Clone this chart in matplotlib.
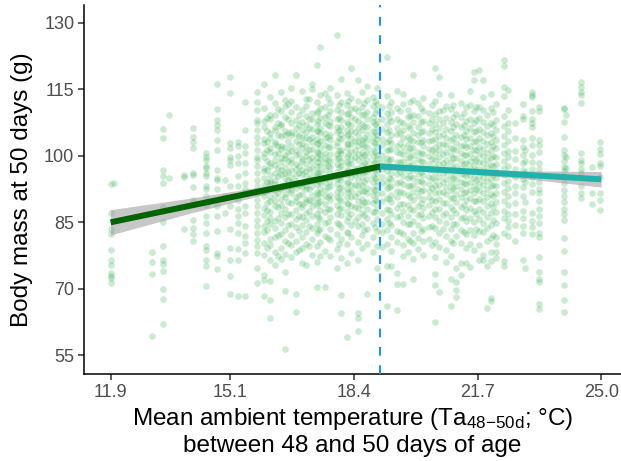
import numpy as np
import matplotlib
matplotlib.use("Agg")
import matplotlib.pyplot as plt

plt.rcParams['font.family'] = ['Liberation Sans', 'DejaVu Sans']
plt.rcParams['mathtext.fontset'] = 'custom'
plt.rcParams['mathtext.rm'] = 'Liberation Sans'
plt.rcParams['mathtext.it'] = 'Liberation Sans:italic'

# ---- data: temperature columns and body masses ----
temp_cols = [11.9, 12.0, 13.0, 13.3, 13.45, 13.85, 14.1, 14.45, 14.75, 14.95,
             15.1, 15.3, 15.5, 15.8,
             16.0, 16.15, 16.3, 16.45, 16.57, 16.72, 16.84, 17.0, 17.13, 17.27,
             17.4, 17.5, 17.62, 17.77, 17.94, 18.06, 18.2, 18.31, 18.5, 18.62,
             18.75, 18.9, 19.02,
             19.15, 19.27, 19.4, 19.55, 19.7, 19.85, 19.97, 20.1, 20.25, 20.4,
             20.56, 20.68, 20.85, 21.0, 21.12, 21.25, 21.4, 21.5, 21.6, 21.75,
             21.85, 21.95, 22.05, 22.2, 22.4, 22.5, 22.7, 22.9, 22.97, 23.15,
             23.33, 24.0, 24.05, 24.46, 24.75, 24.97]

mass_by_col = [
    [93.7, 87.2, 83.4, 82.3, 78.7, 76.4, 75.4, 73.5, 73.0, 72.4, 71.3],
    [93.9],
    [78.2, 76.0, 73.3, 59.4],
    [106.0, 104.0, 96.9, 95.4, 93.9, 88.5, 85.0, 79.6, 76.6, 75.5, 74.0, 70.0, 67.7, 62.0],
    [109.2, 95.1],
    [95.6, 95.3, 83.6],
    [106.3, 104.3, 103.0, 101.8, 96.2, 95.6, 93.0, 90.1, 85.6, 83.8, 82.3, 80.7],
    [100.6, 99.8, 99.1, 97.6, 97.2, 96.2, 95.4, 93.1, 92.4, 90.9, 89.0, 86.4, 84.9, 82.6, 79.6, 78.8, 76.6, 75.1, 70.6],
    [116.2, 110.5, 108.1, 107.0, 105.8, 103.6, 101.3, 96.9, 95.0, 94.6, 92.4, 88.6, 86.4, 83.0, 78.1, 77.4, 74.4],
    [94.5, 91.0, 87.0],
    [117.8, 114.1, 102.8, 101.7, 99.8, 99.1, 98.0, 93.1, 88.6, 83.4, 79.3, 76.6, 72.9, 68.8],
    [103.2, 102.1, 99.9, 98.4, 95.4, 93.1, 90.1, 87.9, 86.4, 84.9, 82.6, 78.9, 76.6, 68.4],
    [112.2, 105.8, 102.1, 100.6, 98.4, 96.1, 93.9, 92.4, 88.6, 87.1, 84.1, 81.9, 80.4, 78.1, 68.4],
    [114.4, 112.2, 110.3, 108.1, 107.3, 105.8, 104.3, 102.8, 101.3, 99.8, 99.1, 97.6, 96.1, 94.6, 93.1, 91.6, 90.1, 88.6, 87.1, 85.6, 84.1, 82.6, 81.1, 79.6, 78.1, 74.8, 71.4],
    [116.1, 110.7, 107.9, 106.4, 103.8, 102.9, 100.6, 99.8, 97.2, 96.5, 95.1, 93.4, 91.8, 90.9, 88.2, 86.7, 84.1, 82.8, 80.3, 77.6, 73.1, 72.0, 68.3],
    [113.3, 109.1, 108.4, 105.2, 104.1, 101.7, 100.9, 98.3, 97.6, 95.7, 94.3, 93.8, 90.6, 89.7, 87.4, 85.9, 84.6, 81.2, 79.9, 76.4, 71.8, 67.4, 63.4],
    [118.2, 111.8, 109.3, 106.6, 105.9, 103.2, 102.6, 100.3, 99.1, 97.9, 96.2, 94.6, 93.7, 91.1, 89.8, 88.6, 85.3, 83.7, 81.6, 78.2, 75.4],
    [114.3, 110.1, 107.2, 106.8, 104.4, 102.3, 101.5, 99.4, 98.7, 96.8, 95.9, 93.2, 92.5, 90.2, 88.9, 87.1, 84.8, 82.4, 79.3, 76.8],
    [112.6, 111.2, 108.7, 105.6, 104.7, 101.9, 100.2, 99.6, 97.4, 96.1, 94.9, 93.6, 91.4, 90.7, 88.1, 86.3, 83.2, 80.9, 77.9, 73.8, 69.6, 56.4],
    [115.2, 112.4, 109.8, 107.4, 105.3, 104.6, 102.2, 101.1, 99.2, 98.4, 96.7, 95.3, 94.1, 92.2, 91.6, 89.3, 86.8, 84.7, 82.1, 79.8, 77.2],
    [118.2, 110.9, 108.1, 106.2, 104.9, 103.4, 101.3, 100.1, 98.2, 97.1, 95.6, 94.4, 92.7, 90.8, 89.9, 87.7, 85.8, 83.9, 80.7, 78.3, 68.8, 64.8],
    [114.7, 110.3, 107.6, 105.8, 104.2, 102.8, 101.7, 99.3, 98.9, 96.9, 95.8, 93.9, 92.9, 91.3, 89.1, 88.4, 86.2, 84.3, 81.7, 79.1, 75.8],
    [112.8, 111.3, 108.9, 106.9, 105.4, 103.9, 102.1, 100.8, 99.9, 98.1, 96.6, 95.4, 93.3, 92.4, 90.3, 89.6, 87.2, 85.6, 82.9, 80.2, 75.3],
    [116.2, 115.0, 109.7, 108.3, 106.1, 104.3, 103.1, 101.6, 99.7, 98.6, 97.3, 95.7, 94.6, 93.1, 91.2, 89.8, 88.7, 86.4, 83.8, 81.3, 77.7],
    [120.4, 112.2, 109.6, 107.1, 105.7, 103.7, 102.7, 100.9, 99.6, 97.8, 96.4, 95.2, 93.6, 91.9, 90.4, 88.8, 86.9, 84.6, 82.7, 79.6, 76.1, 70.5],
    [124.5, 113.6, 110.8, 108.6, 106.3, 105.1, 103.3, 101.8, 100.4, 99.2, 97.6, 96.3, 94.2, 92.8, 91.7, 89.7, 87.8, 85.7, 83.4, 80.6, 77.3],
    [114.1, 111.1, 108.8, 107.3, 105.2, 104.1, 102.4, 100.7, 99.5, 98.3, 96.9, 95.1, 93.9, 92.3, 90.9, 89.2, 87.3, 84.9, 81.9, 78.6, 70.5],
    [115.3, 111.9, 110.2, 107.8, 106.7, 104.8, 103.6, 101.9, 100.3, 98.8, 97.4, 96.2, 94.3, 93.2, 91.1, 90.1, 87.9, 86.1, 83.6, 81.1, 77.4],
    [127.2, 113.7, 110.4, 108.2, 106.4, 105.3, 103.2, 102.3, 100.5, 99.4, 98.2, 96.4, 94.8, 93.7, 91.8, 90.6, 88.9, 86.8, 84.9, 82.3, 78.9, 74.6],
    [117.4, 112.1, 109.9, 108.1, 106.6, 104.9, 103.7, 101.4, 100.7, 98.9, 97.7, 95.9, 94.5, 92.9, 91.5, 89.9, 88.3, 86.6, 83.9, 81.2, 76.9, 68.5, 64.6],
    [114.2, 111.4, 109.4, 107.7, 105.9, 104.5, 102.9, 101.7, 99.8, 98.7, 96.8, 95.6, 93.8, 92.6, 90.8, 89.4, 87.6, 85.4, 82.8, 80.1, 75.9, 59.1],
    [119.7, 113.1, 110.6, 108.7, 106.9, 105.6, 103.9, 102.6, 100.9, 99.3, 98.1, 96.3, 95.3, 93.4, 92.1, 90.7, 88.6, 86.9, 84.4, 81.6, 78.1],
    [117.0, 112.3, 110.1, 107.9, 106.2, 104.7, 103.4, 102.2, 100.4, 99.1, 97.3, 96.1, 94.6, 93.3, 91.6, 89.8, 88.2, 86.3, 84.2, 80.6, 76.6, 64.6, 63.4, 60.5],
    [114.4, 110.9, 109.2, 107.2, 105.8, 103.6, 102.7, 100.8, 99.7, 97.9, 96.6, 95.2, 93.4, 92.1, 90.3, 88.8, 87.1, 84.7, 82.2, 79.2],
    [115.7, 112.6, 109.9, 108.3, 106.4, 104.9, 103.5, 101.9, 100.6, 99.1, 97.6, 96.3, 94.7, 92.8, 91.7, 89.6, 88.1, 85.9, 83.4, 80.2, 68.8],
    [113.2, 111.2, 108.8, 107.6, 105.7, 104.2, 103.1, 101.3, 99.9, 98.4, 97.2, 95.4, 94.1, 92.4, 91.1, 89.3, 87.4, 84.8, 81.8, 78.4],
    [115.3, 111.7, 110.3, 107.9, 106.6, 104.8, 103.8, 102.1, 100.2, 99.3, 97.8, 96.1, 94.4, 93.1, 91.3, 89.9, 88.2, 85.8, 83.1, 79.6, 74.8],
    [111.0, 108.2, 106.0, 103.7, 102.5, 100.1, 98.8, 97.0, 95.2, 93.9, 91.5, 89.8, 87.0, 84.6, 82.9, 79.4],
    [122.3, 113.4, 109.6, 107.1, 105.3, 103.0, 101.4, 99.6, 98.1, 96.5, 94.2, 92.8, 90.4, 88.1, 85.7, 83.2, 80.1, 75.1, 66.2],
    [112.2, 109.8, 107.9, 104.6, 102.8, 101.5, 99.3, 97.6, 96.2, 94.7, 93.3, 91.2, 89.6, 86.9, 84.3, 81.8, 78.6, 75.1],
    [114.6, 110.7, 108.4, 106.2, 104.9, 102.2, 100.8, 98.7, 97.3, 95.9, 93.8, 92.1, 90.7, 88.3, 86.2, 83.1, 80.6, 73.5, 71.0, 65.3],
    [114.0, 111.6, 107.3, 105.8, 103.9, 101.9, 100.3, 98.9, 97.1, 95.4, 93.6, 91.6, 89.2, 87.6, 85.1, 82.4, 79.9, 77.3, 71.0],
    [110.4, 108.8, 106.7, 104.2, 102.6, 101.1, 99.5, 97.9, 96.6, 94.9, 93.1, 91.1, 88.9, 86.5, 84.7, 81.3, 78.2],
    [118.2, 112.5, 109.3, 107.6, 105.1, 103.4, 101.7, 100.2, 98.3, 96.8, 95.1, 93.5, 91.9, 90.1, 87.8, 85.4, 82.7, 80.3, 76.7, 72.3],
    [111.9, 108.9, 106.5, 104.7, 103.1, 100.9, 99.2, 97.5, 96.0, 94.4, 92.6, 90.9, 88.6, 86.7, 84.4, 81.5, 78.9],
    [113.1, 110.2, 107.8, 105.6, 103.6, 102.1, 100.4, 98.6, 97.2, 95.6, 93.9, 92.3, 90.3, 88.2, 85.9, 83.6, 80.9, 77.6],
    [109.7, 107.4, 105.2, 103.3, 101.6, 99.9, 98.2, 96.7, 95.3, 93.7, 92.0, 90.6, 88.8, 86.4, 84.0, 81.2],
    [119.7, 112.4, 109.5, 107.1, 105.4, 103.8, 102.0, 100.6, 99.0, 97.4, 96.1, 94.6, 93.2, 91.7, 89.9, 88.0, 86.1, 83.8, 80.5, 77.2, 73.4, 70.9, 62.5],
    [117.8, 114.0, 110.1, 108.2, 106.3, 104.4, 102.7, 101.2, 99.7, 98.1, 96.9, 95.2, 93.4, 91.8, 90.2, 87.9, 85.3, 82.6, 79.4, 69.4],
    [111.3, 108.6, 106.1, 104.1, 102.4, 100.8, 99.1, 97.8, 96.3, 94.8, 93.0, 91.3, 89.4, 87.1, 84.8, 82.0, 78.8, 76.0],
    [113.6, 110.6, 107.7, 105.7, 103.5, 101.8, 100.1, 98.5, 97.0, 95.5, 93.8, 92.2, 90.5, 88.4, 86.3, 83.5, 80.8, 77.5, 72.3, 66.2],
    [109.4, 107.2, 104.8, 102.9, 101.3, 99.4, 97.7, 96.4, 94.7, 93.1, 91.4, 89.5, 87.2, 84.6, 81.9, 74.8, 71.5, 68.1, 69.7],
    [112.0, 108.7, 106.4, 104.3, 102.3, 100.7, 98.9, 97.3, 95.8, 94.1, 92.4, 90.6, 88.5, 86.0, 83.3, 80.4, 75.9, 73.2],
    [110.9, 107.9, 105.5, 103.7, 101.9, 100.2, 98.4, 96.9, 95.4, 93.6, 91.9, 90.0, 87.7, 85.2, 82.3, 79.2, 75.9],
    [114.6, 111.5, 108.3, 106.2, 104.1, 102.2, 100.5, 98.8, 97.2, 95.7, 94.0, 92.3, 90.4, 88.3, 86.0, 83.3, 80.2, 75.0],
    [118.9, 117.0, 110.0, 107.5, 105.3, 103.2, 101.4, 99.6, 98.0, 96.6, 94.9, 93.2, 91.5, 89.7, 87.5, 85.0, 82.1, 78.7],
    [119.3, 111.1, 108.5, 106.0, 103.9, 102.0, 100.3, 98.6, 97.1, 95.5, 93.9, 92.2, 90.3, 88.1, 85.8, 83.0, 79.9, 76.6],
    [117.0, 113.3, 110.3, 107.6, 105.4, 103.4, 101.6, 99.9, 98.3, 96.8, 95.1, 93.4, 91.7, 89.9, 87.4, 84.9, 82.9, 77.7, 76.5],
    [109.2, 106.8, 104.6, 102.6, 100.7, 99.0, 97.5, 95.9, 94.3, 92.6, 90.8, 88.7, 86.2, 83.7, 80.7, 75.2, 65.7],
    [114.0, 110.8, 107.3, 105.1, 103.0, 101.2, 99.5, 97.9, 96.3, 94.8, 93.1, 91.3, 89.3, 87.0, 84.3, 81.5, 78.4, 76.2, 67.9, 67.2],
    [111.7, 108.1, 105.8, 103.6, 101.7, 99.8, 98.2, 96.6, 95.0, 93.3, 91.6, 89.6, 87.3, 84.8, 81.8, 80.0, 78.4, 76.9],
    [121.6, 120.2, 115.5, 113.4, 109.0, 106.7, 104.5, 102.4, 100.6, 98.9, 97.3, 95.6, 93.8, 91.9, 89.7, 87.6, 86.0, 82.6, 76.3, 75.2],
    [114.8, 110.4, 107.5, 105.6, 103.3, 101.0, 99.7, 97.8, 96.1, 94.4, 92.7, 90.9, 89.0, 86.9, 85.4, 83.9, 82.0],
    [107.3, 104.0, 101.1, 99.3, 97.1, 95.3, 93.2, 91.7, 89.4, 86.8, 84.4, 80.8],
    [111.6, 108.9, 108.4, 103.5, 101.9, 100.2, 98.3, 96.7, 94.7, 93.0, 91.0, 87.6, 85.9, 84.1, 82.7, 76.4],
    [101.2, 98.9, 96.4, 94.1, 89.5, 74.8],
    [114.4, 113.8, 113.2, 110.2, 108.4, 107.4, 106.6, 104.1, 102.4, 100.1, 98.7, 97.1, 95.2, 93.6, 91.9, 87.1, 85.4, 83.9, 82.4],
    [111.1, 110.0, 103.6, 102.4, 100.9, 98.4, 97.1, 94.2, 92.6, 91.6, 89.9, 87.9, 86.4, 84.8, 82.7, 81.7, 77.1, 73.9, 72.2, 71.5, 66.5, 65.4],
    [110.8, 110.6, 107.6, 104.3, 101.4, 100.2, 98.8, 97.5, 96.5, 95.2, 93.9, 92.3, 90.9, 89.6, 88.1, 86.9, 85.5, 81.5, 78.6, 73.7, 70.8, 67.5, 64.8],
    [109.3, 99.7, 97.3],
    [116.7, 115.6, 114.4, 113.7, 111.8, 100.6, 99.1, 98.4, 97.0, 96.1, 93.1, 91.6, 90.4],
    [97.5, 91.6, 89.1],
    [103.0, 101.5, 100.4, 98.3, 97.6, 95.2, 91.5, 90.1, 87.7],
]

# additional columns in the dense middle of the cloud
temp_cols_extra = [16.08, 16.38, 16.65, 16.93, 17.2, 17.45, 17.7, 18.0, 18.25,
                   18.42, 18.68, 18.96, 19.33, 19.62, 19.9, 20.18, 20.48, 20.78,
                   21.05, 21.33, 21.67, 22.12]
mass_by_col_extra = [
    [108.6, 105.7, 103.1, 101.2, 98.9, 96.8, 94.1, 92.3, 89.4, 87.8, 85.2, 83.3, 79.1],
    [110.6, 107.3, 104.8, 102.1, 100.7, 97.3, 95.4, 93.0, 91.6, 88.4, 86.0, 82.1, 77.3],
    [111.7, 108.2, 105.1, 103.4, 100.9, 98.8, 96.3, 94.6, 92.4, 89.6, 86.9, 84.3, 80.4],
    [109.2, 106.9, 104.5, 102.6, 100.4, 97.7, 96.1, 93.5, 91.2, 89.1, 86.5, 83.1, 78.8],
    [112.7, 108.4, 106.2, 103.8, 101.3, 99.2, 97.1, 94.8, 92.6, 90.1, 87.6, 84.2, 79.7],
    [110.2, 107.8, 105.5, 102.9, 100.6, 98.5, 96.2, 94.3, 91.4, 89.3, 86.3, 83.2],
    [113.1, 109.1, 106.9, 104.3, 101.9, 99.1, 97.7, 95.3, 92.9, 90.8, 88.1, 85.1, 81.4],
    [111.4, 108.6, 105.8, 103.9, 101.1, 99.6, 97.4, 95.1, 92.7, 90.3, 88.0, 84.6, 80.2],
    [112.3, 109.6, 107.2, 104.9, 102.6, 100.3, 98.2, 96.6, 94.2, 91.9, 89.1, 86.1, 82.5],
    [110.7, 108.3, 105.4, 103.3, 101.2, 99.7, 97.1, 95.7, 93.4, 90.9, 88.4, 85.2],
    [111.9, 109.4, 106.8, 104.1, 102.3, 100.2, 98.3, 96.4, 94.1, 92.0, 89.6, 86.7, 83.3],
    [112.4, 109.7, 107.1, 105.3, 102.9, 100.9, 98.6, 96.9, 94.9, 92.2, 90.1, 87.3, 84.0],
    [111.2, 108.6, 105.9, 103.6, 101.3, 99.1, 97.4, 95.1, 93.0, 90.3, 87.7, 84.8],
    [110.1, 107.6, 105.1, 102.9, 100.6, 98.5, 96.3, 94.0, 91.8, 89.2, 86.4, 82.9],
    [112.1, 108.9, 106.3, 103.8, 101.8, 99.7, 97.6, 95.4, 93.2, 90.7, 88.0, 84.6, 80.8],
    [110.8, 107.7, 105.4, 103.0, 100.7, 98.8, 96.4, 94.3, 92.1, 89.4, 86.8, 83.1],
    [111.5, 108.2, 106.0, 103.5, 101.4, 99.2, 97.0, 94.9, 92.7, 90.0, 87.3, 84.1, 79.8],
    [110.3, 107.4, 104.9, 102.7, 100.5, 98.4, 96.2, 94.2, 91.9, 89.3, 86.6, 83.4],
    [111.4, 108.8, 106.5, 103.9, 101.6, 99.5, 97.3, 95.1, 92.8, 90.4, 87.8, 84.7, 80.3],
    [109.6, 107.0, 104.7, 102.5, 100.1, 98.2, 96.0, 93.8, 91.5, 88.9, 86.1, 82.8],
    [110.9, 108.1, 105.6, 103.4, 101.2, 99.0, 96.9, 94.6, 92.4, 89.8, 86.9, 83.6],
    [109.8, 106.9, 104.4, 102.1, 99.9, 97.7, 95.7, 93.4, 91.0, 88.5, 85.6, 82.2],
]

# fitted segmented regression
fit1_temp = [11.9, 14.0, 16.0, 17.5, 19.1]
fit1_mass = [85.0, 88.7, 92.2, 94.8, 97.6]
fit1_ci = [2.85, 1.7, 0.95, 0.7, 0.8]
fit2_temp = [19.1, 21.0, 23.0, 25.0]
fit2_mass = [97.6, 96.7, 95.7, 94.7]
fit2_ci = [0.7, 0.5, 0.9, 1.75]
breakpoint = 19.1

x_ticks = [11.9, 15.1, 18.4, 21.7, 25.0]
x_tick_labels = ["11.9", "15.1", "18.4", "21.7", "25.0"]
y_ticks = [55, 70, 85, 100, 115, 130]

# ---- build flat arrays ----
all_cols = temp_cols + temp_cols_extra
all_masses = mass_by_col + mass_by_col_extra
temps = np.concatenate([[t] * len(m) for t, m in zip(all_cols, all_masses)])
masses = np.concatenate([np.asarray(m, dtype=float) for m in all_masses])

fig = plt.figure(figsize=(6.21, 4.61), dpi=100)
ax = fig.add_axes([84 / 621, (461 - 374) / 461, 1 - 84 / 621, (374 - 5) / 461])

ax.scatter(temps, masses, s=23, color='#2fb04a', alpha=0.25, linewidths=0, zorder=1)

ax.fill_between(fit1_temp, np.array(fit1_mass) - np.array(fit1_ci),
                np.array(fit1_mass) + np.array(fit1_ci),
                color='#999999', alpha=0.55, linewidth=0, zorder=2)
ax.fill_between(fit2_temp, np.array(fit2_mass) - np.array(fit2_ci),
                np.array(fit2_mass) + np.array(fit2_ci),
                color='#999999', alpha=0.55, linewidth=0, zorder=2)

ax.axvline(breakpoint, color='#1E90FF', lw=1.5, linestyle=(0, (4.2, 4.6)), zorder=3)

ax.plot(fit1_temp, fit1_mass, color='#006400', lw=4.3, solid_capstyle='butt', zorder=4)
ax.plot(fit2_temp, fit2_mass, color='#20B2AA', lw=4.3, solid_capstyle='butt', zorder=4)

ax.set_xlim(11.19, 25.53)
ax.set_ylim(50.8, 134.0)
ax.set_xticks(x_ticks)
ax.set_xticklabels(x_tick_labels)
ax.set_yticks(y_ticks)

for side in ['top', 'right']:
    ax.spines[side].set_visible(False)
for side in ['left', 'bottom']:
    ax.spines[side].set_color('black')
    ax.spines[side].set_linewidth(1.1)
ax.tick_params(axis='both', colors='#333333', length=4, width=1.1,
               labelsize=13, labelcolor='#4D4D4D', pad=3)

ax.set_ylabel("Body mass at 50 days (g)", fontsize=17.5, color='black', labelpad=8)
ax.set_xlabel("Mean ambient temperature (Ta$_{\\mathregular{48{-}50d}}$; °C)\nbetween 48 and 50 days of age",
              fontsize=17.5, color='black', labelpad=4, linespacing=1.15)

fig.savefig("out.png", dpi=100)
